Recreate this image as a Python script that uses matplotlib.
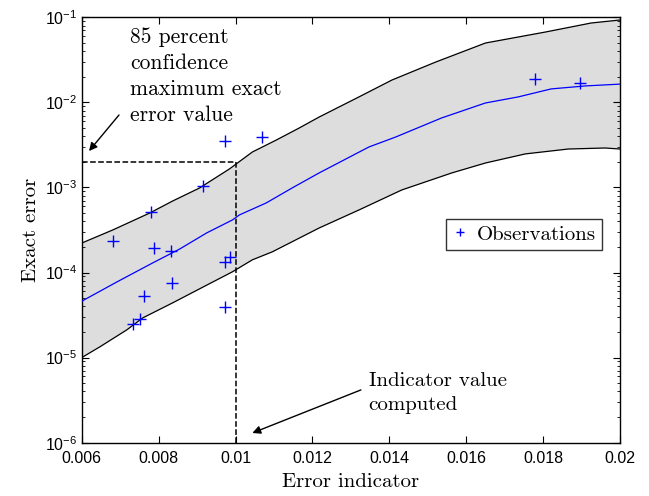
import numpy as np
import matplotlib
matplotlib.use("Agg")
import matplotlib.pyplot as plt
from matplotlib.ticker import FixedLocator, FuncFormatter, LogLocator

# band edges and median curve
x_upper = [0.00601, 0.006811, 0.00777, 0.008365, 0.009065, 0.009842, 0.010438, 0.011061,
           0.011657, 0.012176, 0.013212, 0.014067, 0.015207, 0.016503, 0.018057, 0.019249, 0.02]
y_upper = [2.23e-4, 3.17e-4, 5.01e-4, 6.93e-4, 9.86e-4, 1.65e-3, 2.61e-3, 3.61e-3,
           5.0e-3, 6.73e-3, 1.16e-2, 1.83e-2, 2.98e-2, 4.99e-2, 6.71e-2, 8.57e-2, 9.3e-2]

x_median = [0.006, 0.006917, 0.00785, 0.008549, 0.009249, 0.00992, 0.0101, 0.0108, 0.011474,
            0.012173, 0.013469, 0.014168, 0.01536, 0.0165, 0.017355, 0.01821, 0.019091, 0.02]
y_median = [4.6e-5, 7.76e-5, 1.30e-4, 1.89e-4, 2.92e-4, 4.15e-4, 4.75e-4, 6.58e-4, 9.87e-4,
            1.48e-3, 2.99e-3, 3.92e-3, 6.56e-3, 9.84e-3, 1.16e-2, 1.44e-2, 1.56e-2, 1.64e-2]

x_lower = [0.006, 0.006474, 0.007174, 0.007588, 0.008365, 0.009065, 0.00992, 0.010438,
           0.010956, 0.012176, 0.013212, 0.014326, 0.015622, 0.016503, 0.017539, 0.018653,
           0.019611, 0.02]
y_lower = [1.0e-5, 1.34e-5, 2.12e-5, 2.93e-5, 4.40e-5, 6.43e-5, 1.02e-4, 1.41e-4,
           1.75e-4, 3.34e-4, 5.44e-4, 9.35e-4, 1.48e-3, 1.94e-3, 2.48e-3, 2.83e-3,
           2.91e-3, 2.83e-3]

# observations
obs_x = [0.006811, 0.007795, 0.007873, 0.008313, 0.009142, 0.009738, 0.010697, 0.007329,
         0.00751, 0.007614, 0.008339, 0.009738, 0.009868, 0.009738, 0.017796, 0.018966]
obs_y = [2.35e-4, 5.15e-4, 1.95e-4, 1.79e-4, 1.04e-3, 3.52e-3, 3.92e-3, 2.49e-5,
         2.85e-5, 5.31e-5, 7.55e-5, 1.33e-4, 1.52e-4, 3.94e-5, 1.88e-2, 1.69e-2]

indicator = 0.01
max_exact = 2e-3
x_ticks = [0.006, 0.008, 0.01, 0.012, 0.014, 0.016, 0.018, 0.02]

plt.rcParams['font.family'] = 'Liberation Sans'
plt.rcParams['mathtext.fontset'] = 'custom'
plt.rcParams['mathtext.rm'] = 'Liberation Sans'
serif = 'cmr10'

fig = plt.figure(figsize=(6.49, 4.96), dpi=100)
ax = fig.add_axes([0.1259, 0.1075, 0.8294, 0.8576])

# shaded band
ax.fill(np.concatenate([x_upper, x_lower[::-1]]),
        np.concatenate([y_upper, y_lower[::-1]]),
        color='#dddddd', lw=0, zorder=1)
ax.plot(x_upper, y_upper, color='k', lw=0.9, zorder=2)
ax.plot(x_lower, y_lower, color='k', lw=0.9, zorder=2)
ax.plot(x_median, y_median, color='blue', lw=0.9, zorder=3)
ax.plot(obs_x, obs_y, '+', color='blue', ms=8, mew=1.0, zorder=4, label='Observations')

# dashed guide lines
ax.plot([0.006, indicator], [max_exact, max_exact], 'k--', lw=1.1, zorder=3)
ax.plot([indicator, indicator], [1e-6, max_exact], 'k--', lw=1.1, zorder=3)

ax.set_yscale('log')
ax.set_xlim(0.006, 0.02)
ax.set_ylim(1e-6, 1e-1)
ax.xaxis.set_major_locator(FixedLocator(x_ticks))
ax.xaxis.set_major_formatter(FuncFormatter(lambda v, p: ('%.3f' % v).rstrip('0')))
ax.yaxis.set_major_locator(LogLocator(base=10, numticks=10))
ax.yaxis.set_minor_locator(LogLocator(base=10, subs=np.arange(2, 10), numticks=20))
ax.tick_params(which='both', direction='in', top=True, right=True, labelsize=11.5)
ax.tick_params(which='major', length=5, width=0.8)
ax.tick_params(which='minor', length=2.5, width=0.6)
ax.tick_params(axis='x', pad=6)
for s in ax.spines.values():
    s.set_linewidth(1.0)

ax.set_xlabel('Error indicator', fontfamily=serif, fontsize=15, labelpad=5)
ax.set_ylabel('Exact error', fontfamily=serif, fontsize=15, labelpad=3)

ax.annotate('', xy=(0.00619, 2.68e-3), xytext=(0.00697, 7.11e-3),
            arrowprops=dict(arrowstyle='-|>', color='k', lw=1.0,
                            mutation_scale=12, shrinkA=0, shrinkB=0))
ax.text(0.00725, 0.077, '85 percent\nconfidence\nmaximum exact\nerror value',
        fontfamily=serif, fontsize=15.5, va='top', ha='left', linespacing=1.42)

ax.annotate('', xy=(0.010438, 1.3e-6), xytext=(0.013262, 4.17e-6),
            arrowprops=dict(arrowstyle='-|>', color='k', lw=1.0,
                            mutation_scale=12, shrinkA=0, shrinkB=0))
ax.text(0.01346, 6.7e-6, 'Indicator value\ncomputed',
        fontfamily=serif, fontsize=15, va='top', ha='left', linespacing=1.38)

leg = ax.legend(loc='upper left', bbox_to_anchor=(0.6764, 0.526), frameon=True,
                fancybox=False, edgecolor='k', handlelength=0.8, handletextpad=0.4,
                borderpad=0.3, borderaxespad=0, markerscale=0.8,
                prop={'family': serif, 'size': 15})
leg.get_frame().set_linewidth(1.0)

fig.savefig('out.png', dpi=100)
